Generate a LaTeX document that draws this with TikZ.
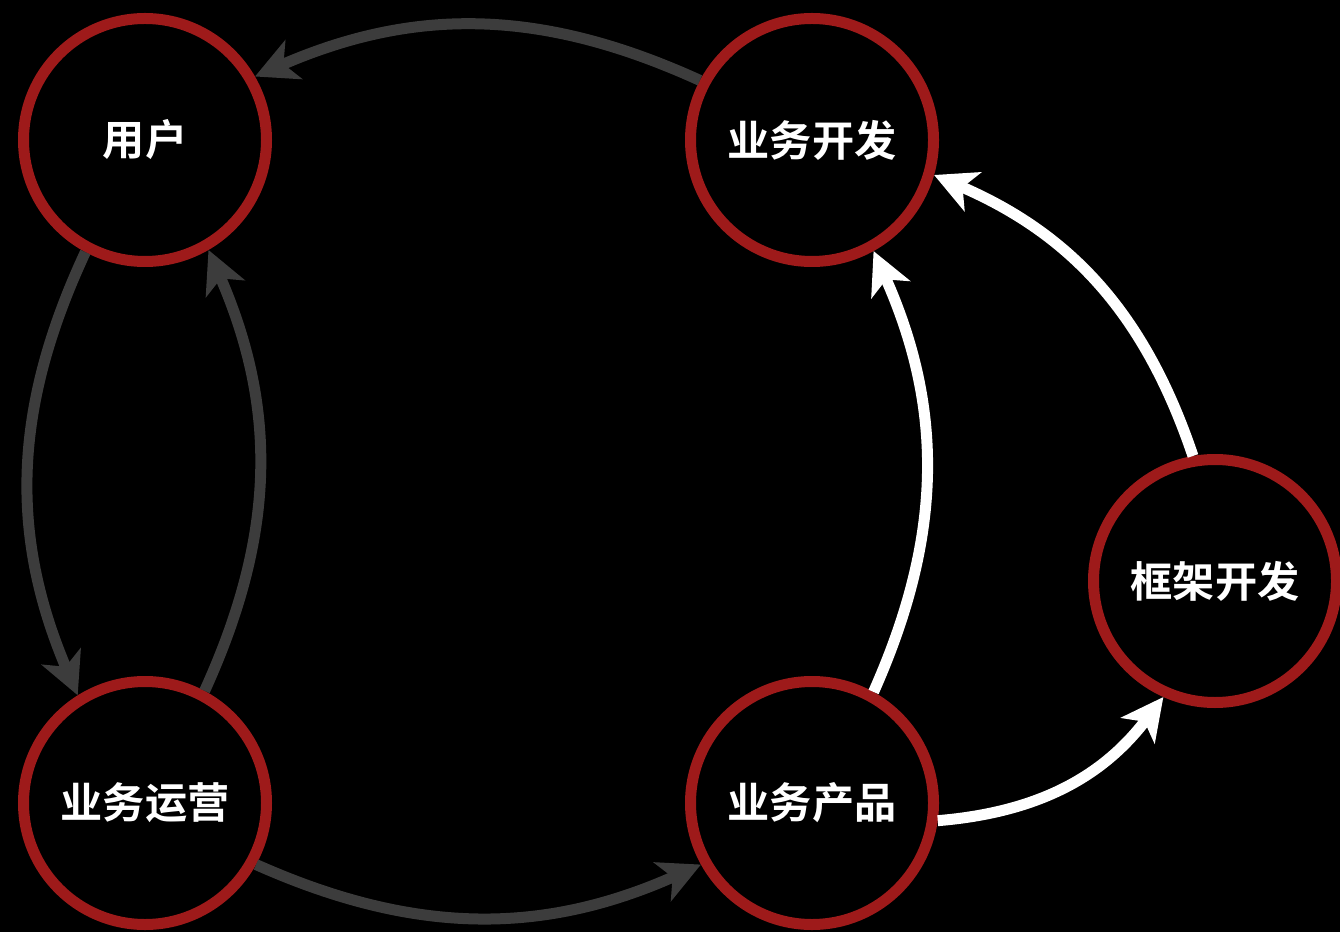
\documentclass[tikz,border=0pt]{standalone}
\usepackage{fontspec}
\newfontfamily\cjk{Noto Sans CJK SC Bold}
\usetikzlibrary{arrows.meta}
\definecolor{ringred}{HTML}{9E1A1A}
\definecolor{dimgray}{HTML}{3C3C3C}

\begin{document}
\begin{tikzpicture}[
  >={Stealth[length=8.4mm, width=8.4mm, inset=2.2mm]},
  role/.style={circle, draw=ringred, line width=2.2mm, minimum size=48.6mm,
               inner sep=0pt, text=white, font=\cjk\fontsize{24}{28}\selectfont},
  flow/.style={->, draw=dimgray, line width=2.2mm, bend right=24},
  hot/.style={->, draw=white, line width=2.2mm, bend right=24}
]
\fill[black] (0,0) rectangle (26.8,18.64);
\useasboundingbox (0,0) rectangle (26.8,18.64);

\node[role] (user)    at (2.9,15.84)  {用户};
\node[role] (bizdev)  at (16.24,15.84) {业务开发};
\node[role] (bizops)  at (2.9,2.58)   {业务运营};
\node[role] (bizprod) at (16.24,2.58) {业务产品};
\node[role] (fwdev)   at (24.3,7.02)  {框架开发};

\draw[flow] (bizdev.152) to (user.30);
\draw[flow] (user.242) to (bizops.122);
\draw[flow] (bizops.62) to (user.-60);
\draw[flow] (bizops.-29) to (bizprod.-151);

\draw[hot] (bizprod.61) to (bizdev.-61);
\draw[hot] (bizprod.-8) to (fwdev.-114);
\draw[hot] (fwdev.100) to (bizdev.-16);

\end{tikzpicture}
\end{document}
